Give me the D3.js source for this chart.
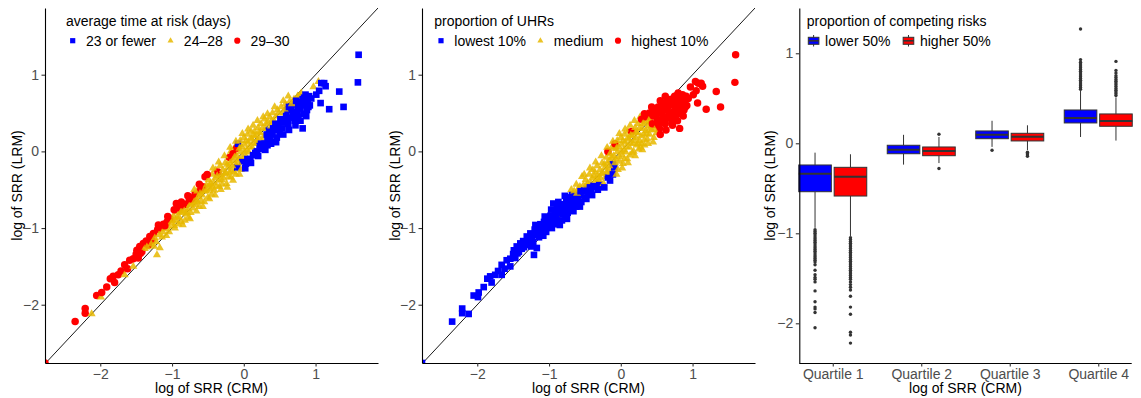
<!DOCTYPE html>
<html>
<head>
<meta charset="utf-8">
<script src="https://cdn.jsdelivr.net/npm/d3@7"></script>
<style>
  html, body { margin: 0; padding: 0; background: #fff; }
  svg { display: block; }
</style>
</head>
<body>
<svg id="chart" width="1141" height="398"></svg>
<script>
// Facility-level log SRR: competing-risk model (CRM, x) vs logistic model (LRM, y)
const crm = [
  -2.77,-2.35,-2.21,-2.21,-2.12,-2.05,-1.99,-1.98,-1.91,-1.86,
  -1.82,-1.80,-1.75,-1.71,-1.66,-1.66,-1.62,-1.59,-1.54,-1.54,
  -1.50,-1.49,-1.47,-1.45,-1.42,-1.40,-1.38,-1.36,-1.33,-1.31,
  -1.28,-1.26,-1.24,-1.21,-1.20,-1.18,-1.17,-1.16,-1.13,-1.12,
  -1.09,-1.07,-1.05,-1.03,-1.01,-0.98,-0.96,-0.95,-0.94,-0.92,
  -0.90,-0.89,-0.87,-0.86,-0.84,-0.82,-0.81,-0.80,-0.78,-0.77,
  -0.76,-0.74,-0.72,-0.71,-0.70,-0.68,-0.67,-0.66,-0.65,-0.63,
  -0.62,-0.60,-0.59,-0.58,-0.57,-0.55,-0.54,-0.53,-0.52,-0.50,
  -0.49,-0.47,-0.46,-0.45,-0.44,-0.42,-0.41,-0.40,-0.39,-0.38,
  -0.36,-0.35,-0.34,-0.33,-0.32,-0.30,-0.29,-0.28,-0.26,-0.25,
  -0.24,-0.22,-0.21,-0.20,-0.19,-0.18,-0.18,-0.17,-0.15,-0.15,
  -0.14,-0.12,-0.11,-0.10,-0.10,-0.09,-0.08,-0.07,-0.05,-0.05,
  -0.04,-0.03,-0.02,0.00,0.01,0.02,0.03,0.04,0.05,0.06,
  0.07,0.09,0.10,0.11,0.12,0.13,0.15,0.16,0.17,0.18,
  0.20,0.21,0.22,0.23,0.24,0.25,0.26,0.27,0.28,0.29,
  0.29,0.30,0.32,0.33,0.34,0.35,0.36,0.37,0.38,0.40,
  0.40,0.42,0.43,0.45,0.46,0.47,0.48,0.50,0.51,0.52,
  0.54,0.55,0.56,0.58,0.59,0.61,0.62,0.64,0.65,0.66,
  0.68,0.70,0.71,0.72,0.74,0.75,0.76,0.77,0.78,0.79,
  0.80,0.82,0.82,0.83,0.85,0.86,0.88,0.89,0.91,0.92,
  0.94,0.97,1.01,1.04,1.05,1.07,1.08,1.12,1.14,1.19,
  1.33,1.39,1.59,1.60,
  -1.44,-1.35,-1.29,-1.22,-1.14,-1.10,-1.04,-0.99,-0.93,-0.91,
  -0.88,-0.83,-0.79,-0.75,-0.73,-0.69,-0.64,-0.61,-0.56,-0.51,
  -0.48,-0.43,-0.37,-0.31,-0.27,-0.23,-0.20,-0.16,-0.13,-0.11,
  -0.08,-0.06,-0.02,0.01,0.03,0.05,0.08,0.10,0.13,0.14,
  0.16,0.19,0.21,0.24,0.26,0.28,0.31,0.33,0.36,0.39,
  0.41,0.44,0.47,0.49,0.53,0.57,0.60,0.63,0.67,0.69,
  0.73,0.76,0.81,0.84,0.87,0.90,
  -1.25,-1.08,-0.97,-0.85,-0.75,-0.66,-0.57,-0.48,-0.40,-0.32,
  -0.23,-0.15,-0.06,0.02,0.10,0.20,0.30,0.38,0.45,0.55,
  0.63,0.72,0.79,
  -1.19,-1.06,-0.97,-0.87,-0.78,-0.69,-0.62,-0.51,-0.43,-0.35,
  -0.27,-0.19,-0.11,-0.02,0.06,0.13,0.19,0.33,0.43,0.55,
  0.62
];
const lrm = [
  -2.76,-2.22,-2.05,-2.11,-2.12,-1.88,-1.90,-1.84,-1.77,-1.66,
  -1.63,-1.71,-1.61,-1.56,-1.61,-1.48,-1.53,-1.42,-1.50,-1.40,
  -1.34,-1.29,-1.39,-1.24,-1.31,-1.20,-1.27,-1.17,-1.22,-1.11,
  -1.16,-1.07,-1.13,-1.35,-1.02,-1.09,-1.26,-0.99,-1.05,-0.95,
  -1.01,-0.92,-0.98,-0.88,-0.94,-0.84,-1.00,-0.90,-0.68,-0.79,
  -0.86,-0.74,-0.92,-0.78,-0.70,-0.90,-0.82,-0.69,-0.75,-0.86,
  -0.64,-0.80,-0.68,-0.74,-0.60,-0.56,-0.70,-0.64,-0.52,-0.59,
  -0.72,-0.50,-0.65,-0.57,-0.46,-0.66,-0.33,-0.52,-0.44,-0.60,
  -0.37,-0.49,-0.42,-0.56,-0.30,-0.41,-0.51,-0.35,-0.24,-0.45,
  -0.27,-0.38,-0.46,-0.19,-0.31,-0.43,-0.24,-0.35,-0.15,-0.28,
  -0.42,-0.21,-0.33,-0.08,-0.15,-0.34,0.00,-0.25,-0.03,-0.12,
  -0.27,0.06,-0.17,0.04,-0.06,-0.21,0.10,-0.10,0.14,-0.01,
  -0.24,0.06,-0.13,0.18,0.09,-0.05,-0.16,0.02,0.22,0.12,
  -0.01,-0.10,0.26,0.16,0.05,-0.05,0.26,0.20,0.10,0.00,
  0.31,0.18,0.08,0.24,0.36,0.03,0.14,0.45,0.20,0.10,
  0.42,0.30,0.22,0.08,0.38,0.27,0.45,0.16,0.33,0.50,
  0.22,0.40,0.28,0.46,0.18,0.54,0.35,0.24,0.42,0.58,
  0.30,0.50,0.38,0.62,0.46,0.54,0.36,0.65,0.44,0.58,
  0.50,0.68,0.40,0.61,0.52,0.72,0.45,0.64,0.73,0.56,
  0.76,0.30,0.68,0.49,0.60,0.74,0.54,0.66,0.72,0.60,
  0.69,0.84,0.74,0.91,0.79,0.63,0.89,0.89,0.85,0.55,
  0.78,0.58,0.90,1.26,
  -1.33,-1.25,-1.21,-1.18,-1.12,-0.97,-1.05,-0.90,-0.86,-0.95,
  -0.80,-0.78,-0.80,-0.70,-0.62,-0.66,-0.66,-0.55,-0.52,-0.51,
  -0.44,-0.47,-0.32,-0.37,-0.29,-0.17,-0.27,-0.19,-0.08,-0.30,
  -0.15,0.04,-0.07,0.00,0.14,-0.10,0.06,0.18,0.11,0.21,
  -0.02,0.14,0.25,0.10,0.30,0.05,0.36,0.15,0.23,0.40,
  0.30,0.36,0.28,0.50,0.38,0.55,0.42,0.58,0.62,0.45,
  0.66,0.58,0.62,0.70,0.46,0.58,
  -1.24,-1.10,-0.97,-0.96,-0.88,-0.78,-0.72,-0.62,-0.57,-0.50,
  -0.47,-0.38,-0.30,-0.22,-0.15,-0.06,0.02,0.10,0.12,0.22,
  0.28,0.34,0.40,
  -0.96,-0.85,-0.76,-0.66,-0.58,-0.50,-0.43,-0.30,-0.22,-0.14,
  -0.06,0.05,0.13,0.23,0.29,0.34,0.40,0.49,0.58,0.66,
  0.72
];
// average time at risk: 0 = 23 or fewer, 1 = 24–28, 2 = 29–30
const timeGroup = [
  2,2,2,2,1,2,1,2,2,2,
  2,2,2,2,1,2,2,2,1,2,
  2,2,2,2,2,2,1,2,2,2,
  2,2,1,1,2,1,1,2,1,2,
  1,2,1,2,1,1,1,1,2,1,
  1,2,1,1,2,1,1,2,1,1,
  2,1,1,1,2,2,1,1,1,1,
  1,2,1,1,2,1,2,1,1,1,
  1,1,1,1,1,1,1,1,1,1,
  2,1,1,1,1,1,1,1,1,1,
  1,1,1,2,1,1,1,1,2,1,
  1,1,1,2,1,0,0,1,1,1,
  1,1,0,1,1,1,0,1,1,1,
  1,0,1,1,1,0,1,1,1,0,
  1,1,0,1,1,0,1,1,1,0,
  1,1,0,0,1,0,1,0,1,1,
  0,1,0,1,0,1,0,0,0,1,
  0,1,0,1,0,0,0,1,0,0,
  0,1,0,0,0,1,0,0,1,0,
  1,0,0,0,0,0,0,0,0,0,
  0,1,0,1,0,0,0,0,0,0,
  0,0,0,0,
  2,1,1,1,1,2,1,1,1,1,
  1,1,1,1,2,1,1,1,1,1,
  1,1,1,1,1,1,1,1,1,1,
  1,1,1,1,1,0,1,1,1,1,
  0,1,1,0,1,0,1,0,0,1,
  0,0,0,1,0,1,0,0,1,0,
  0,0,0,0,0,0,
  1,1,1,1,1,1,1,1,1,1,
  1,1,1,0,0,0,0,0,0,0,
  0,0,0,
  2,2,2,2,2,1,2,2,1,1,
  1,1,1,1,1,1,1,1,1,1,
  1
];
// proportion of UHRs: 0 = lowest 10%, 1 = medium, 2 = highest 10%
const uhrGroup = [
  0,0,0,0,0,0,0,0,0,0,
  0,0,0,0,0,0,0,0,0,0,
  0,0,0,0,0,0,0,0,0,0,
  0,0,0,0,0,0,0,0,0,0,
  0,0,0,0,0,0,0,0,0,0,
  0,0,0,0,0,0,0,0,0,0,
  0,0,0,0,0,0,0,0,1,0,
  0,1,0,0,1,0,1,0,1,0,
  1,0,1,0,1,1,0,1,1,0,
  1,1,0,1,1,0,1,1,1,1,
  1,1,1,1,1,0,2,1,1,1,
  1,1,0,1,1,0,2,1,1,1,
  1,1,1,1,1,1,1,1,1,1,
  1,1,1,1,1,1,2,1,1,1,
  1,1,1,1,1,1,1,1,1,1,
  2,1,1,1,1,1,2,1,1,2,
  1,1,1,2,1,2,2,1,2,2,
  2,2,2,2,2,2,2,2,2,2,
  2,2,2,2,2,2,2,2,2,2,
  2,2,2,2,2,2,2,2,2,2,
  2,2,2,2,2,2,2,2,2,2,
  2,2,2,2,
  0,0,0,0,0,0,0,0,0,0,
  0,0,0,0,0,0,0,1,0,0,
  1,0,1,1,1,1,1,1,1,0,
  1,1,1,1,1,1,1,1,1,1,
  1,1,1,1,1,1,1,1,1,1,
  1,2,1,2,2,2,2,2,2,2,
  2,2,2,2,2,2,
  0,0,0,0,0,0,0,0,0,0,
  0,0,1,1,1,1,1,1,1,2,
  2,2,2,
  0,0,0,0,0,1,1,1,1,1,
  1,1,1,1,1,1,1,2,2,2,
  2
];
const timeLabels = ["23 or fewer", "24–28", "29–30"];
const uhrLabels = ["lowest 10%", "medium", "highest 10%"];
const scatterTicks = [-2, -1, 0, 1];

// Box summaries of log SRR (LRM) by CRM quartile and competing-risk group
const quartiles = ["Quartile 1", "Quartile 2", "Quartile 3", "Quartile 4"];
const riskGroups = ["lower 50%", "higher 50%"];
const boxQuartile = ["Quartile 1","Quartile 1","Quartile 2","Quartile 2","Quartile 3","Quartile 3","Quartile 4","Quartile 4"];
const boxRisk = ["lower 50%","higher 50%","lower 50%","higher 50%","lower 50%","higher 50%","lower 50%","higher 50%"];
const whiskerLow  = [-0.94, -1.03, -0.237, -0.22, -0.04, -0.075, 0.07, 0.03];
const hingeLow    = [-0.538, -0.586, -0.116, -0.138, 0.051, 0.026, 0.226, 0.189];
const medians     = [-0.338, -0.371, -0.071, -0.086, 0.096, 0.073, 0.281, 0.248];
const hingeHigh   = [-0.241, -0.267, -0.022, -0.041, 0.137, 0.111, 0.37, 0.326];
const whiskerHigh = [-0.104, -0.122, 0.094, 0.07, 0.25, 0.20, 0.585, 0.51];
const outliers = [
  [-0.96,-0.98,-1.00,-1.02,-1.04,-1.06,-1.08,-1.10,-1.12,-1.14,-1.16,-1.18,-1.20,-1.22,-1.24,-1.26,-1.28,-1.30,-1.32,-1.35,-1.41,-1.46,-1.49,-1.51,-1.54,-1.64,-1.76,-1.82,-1.84,-1.88,-2.05],
  [-1.05,-1.07,-1.09,-1.11,-1.13,-1.15,-1.17,-1.19,-1.21,-1.23,-1.25,-1.27,-1.29,-1.31,-1.33,-1.35,-1.37,-1.39,-1.41,-1.43,-1.45,-1.47,-1.49,-1.51,-1.54,-1.57,-1.60,-1.63,-1.70,-1.82,-1.90,-2.10,-2.13,-2.22],
  [],
  [0.10, -0.28],
  [-0.078],
  [-0.10, -0.115, -0.13, -0.145],
  [0.60,0.62,0.64,0.66,0.68,0.70,0.72,0.74,0.76,0.78,0.80,0.82,0.84,0.86,0.88,0.90,0.93,1.27],
  [0.53,0.55,0.57,0.59,0.61,0.63,0.65,0.67,0.69,0.71,0.73,0.75,0.78,0.81,0.91]
];
const boxTicks = [-2, -1, 0, 1];

// ---------------------------------------------------------------------------
const FONT = '"Liberation Sans", Arial, Helvetica, sans-serif';
const svg = d3.select("#chart").attr("font-family", FONT);
const plotTop = 8, plotBottom = 363;

const markerShapes = [d3.symbolSquare, d3.symbolTriangle, d3.symbolCircle];
const markerColors = ["#0000FF", "#E7B800", "#FF0000"];
const markerAlpha  = [1, 0.85, 1];
const markerArea   = [44, 28, 44];
const keyArea      = [27, 16, 30];

function styleAxis(g) {
  g.attr("font-family", FONT).attr("font-size", 14);
  g.select(".domain").attr("stroke", "#000").attr("stroke-width", 1.1);
  g.selectAll(".tick line").attr("stroke", "#333").attr("stroke-width", 1.1);
  g.selectAll(".tick text").attr("fill", "#4D4D4D");
}

function axisTitles(left, right, yTitleX) {
  svg.append("text")
    .attr("x", (left + right) / 2).attr("y", 393)
    .attr("text-anchor", "middle").attr("font-size", 14).attr("fill", "#000")
    .text("log of SRR (CRM)");
  svg.append("text")
    .attr("transform", `translate(${yTitleX},${(plotTop + plotBottom) / 2}) rotate(-90)`)
    .attr("dy", "0.35em")
    .attr("text-anchor", "middle").attr("font-size", 14).attr("fill", "#000")
    .text("log of SRR (LRM)");
}

const xLimits = [-2.77, 1.87];
const yLimits = [-2.76, 1.87];

function scatterPanel(opts) {
  const x = d3.scaleLinear().domain(xLimits).range([opts.left, opts.right]);
  const y = d3.scaleLinear().domain(yLimits).range([plotBottom, plotTop]);

  const clipId = opts.id + "-clip";
  svg.append("clipPath").attr("id", clipId).append("rect")
    .attr("x", opts.left).attr("y", plotTop)
    .attr("width", opts.right - opts.left).attr("height", plotBottom - plotTop);

  const panel = svg.append("g").attr("clip-path", `url(#${clipId})`);

  // line of equality
  panel.append("line")
    .attr("x1", x(xLimits[0])).attr("y1", y(xLimits[0]))
    .attr("x2", x(xLimits[1])).attr("y2", y(xLimits[1]))
    .attr("stroke", "#000").attr("stroke-width", 0.9);

  panel.selectAll("path.pt")
    .data(d3.range(crm.length))
    .join("path")
    .attr("class", "pt")
    .attr("transform", i => `translate(${x(crm[i])},${y(lrm[i])})`)
    .attr("d", i => d3.symbol(markerShapes[opts.group[i]], markerArea[opts.group[i]])())
    .attr("fill", i => markerColors[opts.group[i]])
    .attr("fill-opacity", i => markerAlpha[opts.group[i]]);

  svg.append("g")
    .attr("transform", `translate(0,${plotBottom})`)
    .call(d3.axisBottom(x).tickValues(scatterTicks).tickFormat(d3.format("d"))
      .tickSize(3.5).tickSizeOuter(0).tickPadding(2.5))
    .call(styleAxis);
  svg.append("g")
    .attr("transform", `translate(${opts.left},0)`)
    .call(d3.axisLeft(y).tickValues(scatterTicks).tickFormat(d3.format("d"))
      .tickSize(3.5).tickSizeOuter(0).tickPadding(2.5))
    .call(styleAxis);

  axisTitles(opts.left, opts.right, opts.yTitleX);

  // legend
  const lg = svg.append("g");
  lg.append("text").attr("x", opts.legendX).attr("y", 25.6)
    .attr("font-size", 14).attr("fill", "#000").text(opts.title);
  let kx = opts.legendX + 6.7;
  opts.labels.forEach((lab, k) => {
    lg.append("path")
      .attr("transform", `translate(${kx},40.7)`)
      .attr("d", d3.symbol(markerShapes[k], keyArea[k])())
      .attr("fill", markerColors[k]).attr("fill-opacity", markerAlpha[k]);
    const t = lg.append("text").attr("x", kx + 13.3).attr("y", 45.6)
      .attr("font-size", 14).attr("fill", "#000").text(lab);
    kx = kx + 13.3 + t.node().getComputedTextLength() + 14.5;
  });
}

scatterPanel({ id: "time", left: 45, right: 378, group: timeGroup, labels: timeLabels,
  title: "average time at risk (days)", legendX: 66, yTitleX: 17.5 });
scatterPanel({ id: "uhr", left: 422, right: 755, group: uhrGroup, labels: uhrLabels,
  title: "proportion of UHRs", legendX: 434.3, yTitleX: 395 });

// ---------------------------------------------------------------------------
// Box plots by quartile
(function boxPanel() {
  const left = 799.3, right = 1131.7;
  const riskColors = { "lower 50%": "#0000FF", "higher 50%": "#FF0000" };
  const qx = d3.scalePoint().domain(quartiles).range([left, right]).padding(0.378);
  const dodge = d3.scaleBand().domain(riskGroups).range([-34, 34]).paddingInner(0.08);
  const y = d3.scaleLinear().domain([-2.441, 1.503]).range([plotBottom, plotTop]);
  const bw = dodge.bandwidth();

  const g = svg.append("g");
  d3.range(boxQuartile.length).forEach(i => {
    const x0 = qx(boxQuartile[i]) + dodge(boxRisk[i]);
    const cx = x0 + bw / 2;
    g.append("line").attr("x1", cx).attr("x2", cx)
      .attr("y1", y(whiskerHigh[i])).attr("y2", y(hingeHigh[i]))
      .attr("stroke", "#333").attr("stroke-width", 1);
    g.append("line").attr("x1", cx).attr("x2", cx)
      .attr("y1", y(hingeLow[i])).attr("y2", y(whiskerLow[i]))
      .attr("stroke", "#333").attr("stroke-width", 1);
    g.append("rect")
      .attr("x", x0).attr("width", bw)
      .attr("y", y(hingeHigh[i])).attr("height", y(hingeLow[i]) - y(hingeHigh[i]))
      .attr("fill", riskColors[boxRisk[i]])
      .attr("stroke", "#333").attr("stroke-width", 1);
    g.append("line").attr("x1", x0).attr("x2", x0 + bw)
      .attr("y1", y(medians[i])).attr("y2", y(medians[i]))
      .attr("stroke", "#333").attr("stroke-width", 2);
    g.selectAll(null).data(outliers[i]).join("circle")
      .attr("cx", cx).attr("cy", v => y(v)).attr("r", 1.7)
      .attr("fill", "#333");
  });

  svg.append("g")
    .attr("transform", `translate(0,${plotBottom})`)
    .call(d3.axisBottom(qx).tickSize(3.5).tickSizeOuter(0).tickPadding(2.5))
    .call(g => g.select(".domain").attr("d", `M${left},0.5H${right}`))
    .call(styleAxis);
  svg.append("g")
    .attr("transform", `translate(${left},0)`)
    .call(d3.axisLeft(y).tickValues(boxTicks).tickFormat(d3.format("d"))
      .tickSize(3.5).tickSizeOuter(0).tickPadding(2.5))
    .call(styleAxis);

  axisTitles(left, right, 770);

  // legend
  const lg = svg.append("g");
  lg.append("text").attr("x", 806.7).attr("y", 25.6)
    .attr("font-size", 14).attr("fill", "#000").text("proportion of competing risks");
  let kx = 813.6;
  riskGroups.forEach(r => {
    lg.append("line").attr("x1", kx).attr("x2", kx).attr("y1", 35).attr("y2", 46.5)
      .attr("stroke", "#333").attr("stroke-width", 1);
    lg.append("rect").attr("x", kx - 5.3).attr("y", 37.3).attr("width", 10.6).attr("height", 7)
      .attr("fill", riskColors[r]).attr("stroke", "#333").attr("stroke-width", 1);
    lg.append("line").attr("x1", kx - 5.3).attr("x2", kx + 5.3).attr("y1", 40.8).attr("y2", 40.8)
      .attr("stroke", "#333").attr("stroke-width", 1.6);
    const t = lg.append("text").attr("x", kx + 11.5).attr("y", 45.6)
      .attr("font-size", 14).attr("fill", "#000").text(r);
    kx = kx + 11.5 + t.node().getComputedTextLength() + 18;
  });
})();
</script>
</body>
</html>
